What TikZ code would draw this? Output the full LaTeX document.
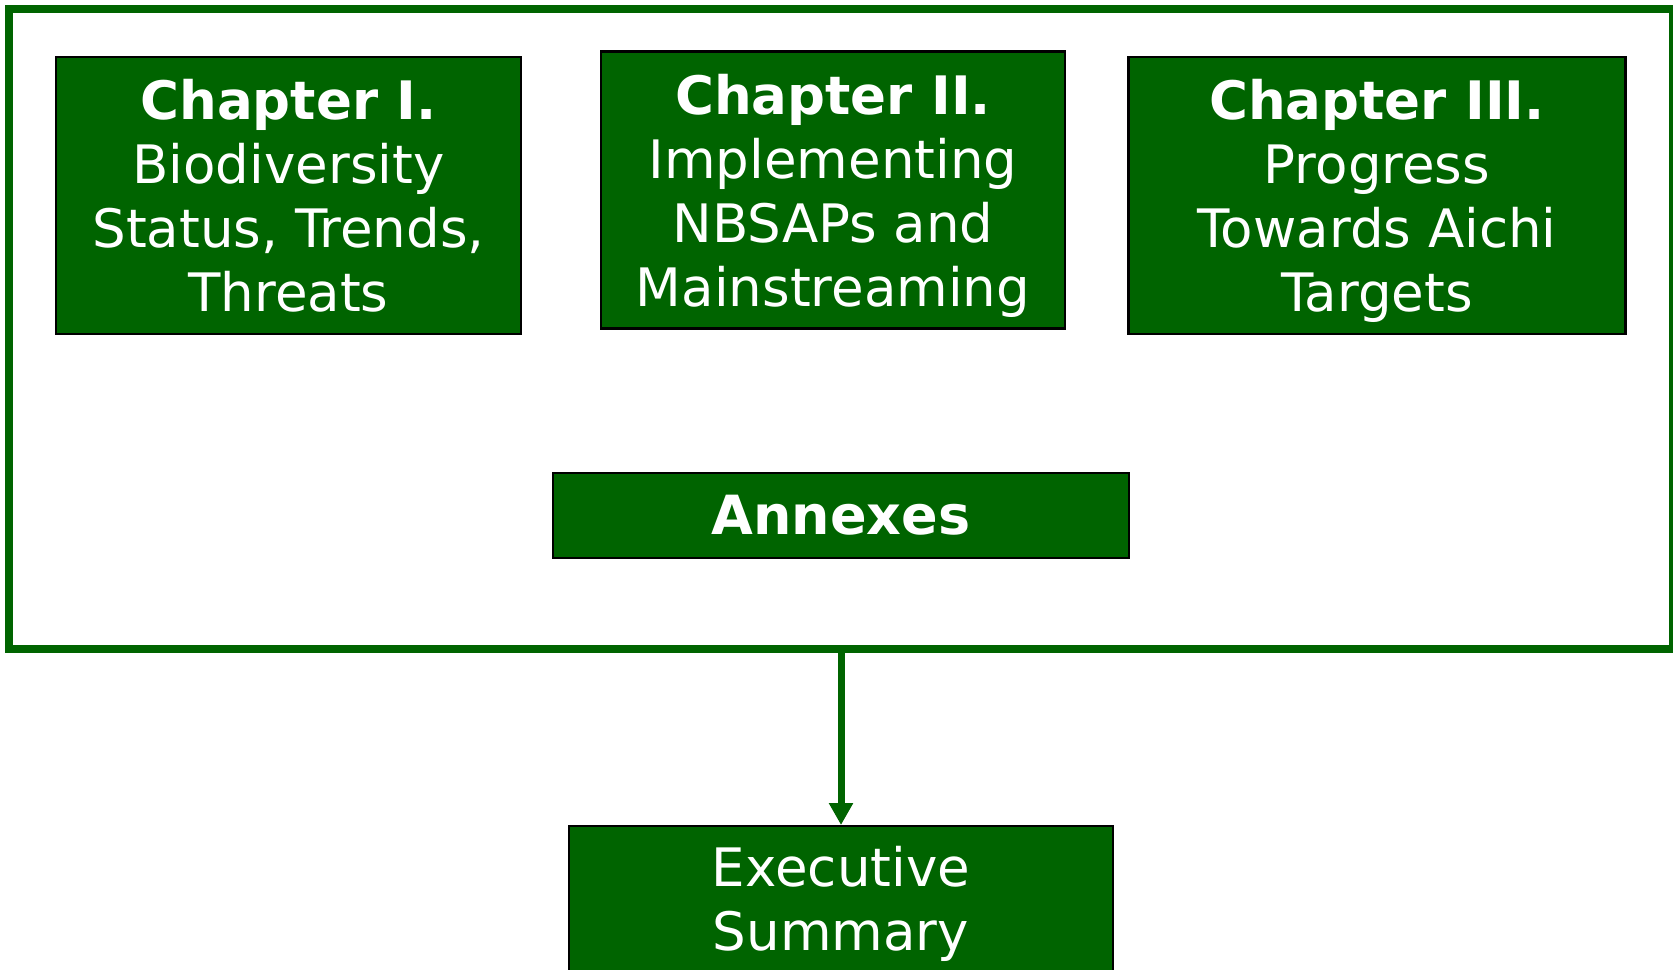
\documentclass[tikz,border=0pt]{standalone}
\usepackage{fontspec}
\setmainfont{DejaVu Sans}
\usetikzlibrary{arrows.meta}
\definecolor{chapgreen}{RGB}{0,100,0}

\begin{document}
\begin{tikzpicture}[x=0.5pt, y=-0.5pt,
	chapbox/.style={draw=black, line width=1.2pt, fill=chapgreen, text=white, align=center, inner sep=0pt, font=\fontsize{26.5}{32}\selectfont},
	chapter/.style={chapbox, minimum height=138.5pt, text depth=0pt},
	framebox/.style={draw=chapgreen, line width=4pt, inner sep=0pt}]
			%%%%% START %%%%%
			
			\useasboundingbox (0,0) rectangle (1673,969);
			
			\node[framebox, minimum width=832pt, minimum height=320pt] (report) at (841,329) {};
			
			\node[chapter, minimum width=232.5pt] (chapI) at (288.5,195.5) {\textbf{Chapter I.}\\Biodiversity\\Status, Trends,\\Threats};
			\node[chapter, minimum width=232pt] (chapII) at (833,190) {\textbf{Chapter II.}\\Implementing\\NBSAPs and\\Mainstreaming};
			\node[chapter, minimum width=248.5pt] (chapIII) at (1377,195.5) {\textbf{Chapter III.}\\Progress\\Towards Aichi\\Targets};
			
			\node[chapbox, minimum width=288pt, minimum height=42.5pt, font=\bfseries\fontsize{27}{32}\selectfont] (annex) at (841,515.5) {Annexes};
			
			\node[chapbox, anchor=north, minimum width=272pt, minimum height=78pt] (exec) at (841,825) {Executive\\Summary};
			
			\draw[chapgreen, line width=3.5pt, -{Triangle[width=11.5pt,length=11pt]}] (report.south) -- (exec.north);
			
			%%%%% END %%%%%
\end{tikzpicture}
\end{document}
